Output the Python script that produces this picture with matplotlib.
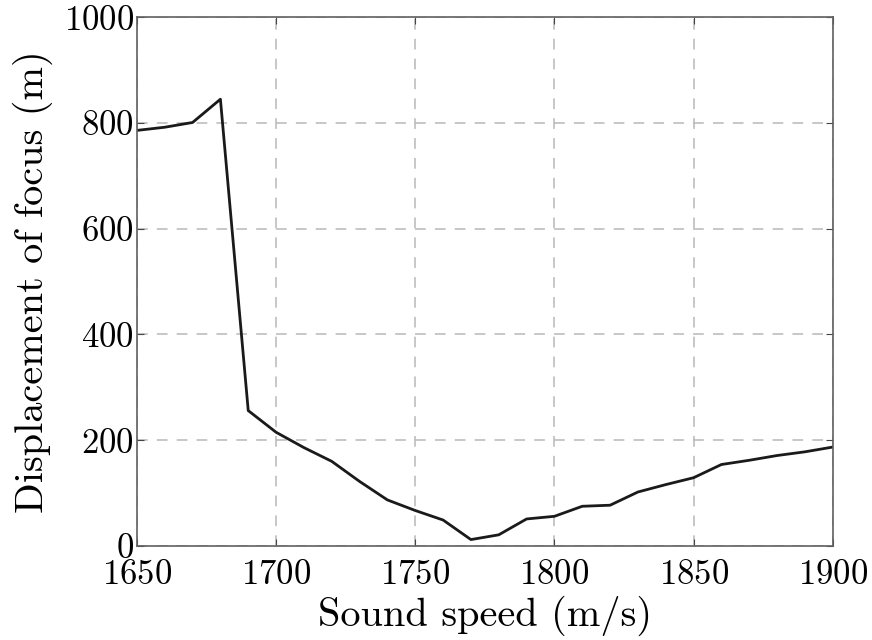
import matplotlib
matplotlib.use("Agg")
from matplotlib import pyplot as plt
import numpy as np

plt.rcParams['font.family'] = 'serif'
plt.rcParams['font.serif'] = ['cmr10', 'DejaVu Serif']
plt.rcParams['axes.formatter.use_mathtext'] = True
plt.rcParams['mathtext.fontset'] = 'cm'

# velocidad del sonido y desplazamiento del foco
velocidad = np.arange(1650, 1901, 10)
desplazamiento = [786, 792, 801, 845, 256, 215, 186, 160, 122, 87, 67, 49, 12, 21,
                  51, 56, 75, 77, 102, 116, 129, 154, 162, 171, 178, 187]

fig = plt.figure(figsize=(8.72, 6.4), dpi=100)
ax = fig.add_axes([0.157, 0.147, 0.798, 0.826])
ax.plot(velocidad, desplazamiento, color="#1a1a1a", linewidth=2)
ax.set_xlim(1650, 1900)
ax.set_ylim(0, 1000)
ax.set_xticks([1650, 1700, 1750, 1800, 1850, 1900])
ax.set_yticks([0, 200, 400, 600, 800, 1000])
ax.grid(True, linestyle=(0, (7, 6)), color="#b8b8b8", linewidth=1.1)
ax.tick_params(direction="in", top=True, right=True, labelsize=25, length=5,
               color="#444444")
ax.tick_params(axis="x", pad=10)
ax.tick_params(axis="y", pad=2)
for s in ax.spines.values():
    s.set_color("#606060")
    s.set_linewidth(1.2)
ax.set_xlabel("Sound speed (m/s)", fontsize=29, labelpad=3)
ax.set_ylabel("Displacement of focus (m)", fontsize=29, labelpad=8)
plt.savefig("out.png")
